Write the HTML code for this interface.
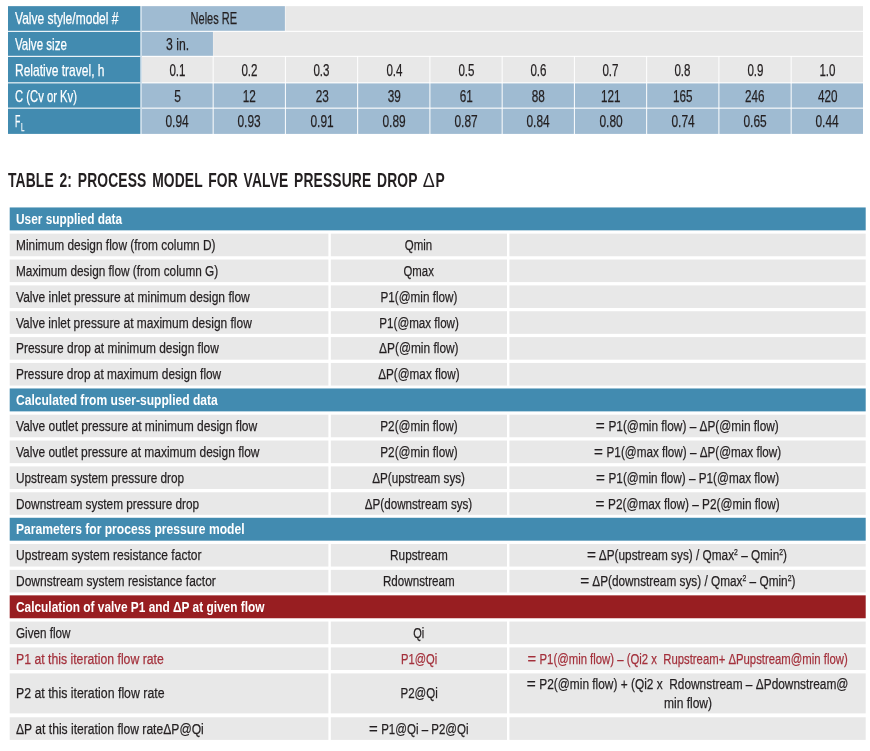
<!DOCTYPE html>
<html><head><meta charset='utf-8'><title>Table 2: Process model for valve pressure drop</title>
<style>
html,body{margin:0;padding:0;background:#fff}
body{width:870px;height:751px;position:relative;overflow:hidden;font-family:"Liberation Sans",sans-serif;font-size:15.5px;color:#231f20}
svg.bg{position:absolute;left:0;top:0}
#pg{position:absolute;left:0;top:0;width:870px;height:751px;filter:blur(0.45px)}
.t{position:absolute;white-space:nowrap;-webkit-text-stroke:0.25px currentColor;line-height:20px;height:20px;margin-top:-10px;transform-origin:0 50%}
.t.c{transform-origin:50% 50%}
.t sub{font-size:70%;vertical-align:baseline;position:relative;top:3.5px;margin-left:1px}
.t sup{font-size:58%;vertical-align:baseline;position:relative;top:-5px}
.eq{display:inline-block;transform:scaleX(1.3);margin:0 1.6px 0 1.2px}
</style></head>
<body>
<div id='pg'>
<svg class='bg' width='870' height='751' viewBox='0 0 870 751'><rect x='139.90' y='6.15' width='2.00' height='127.75' fill='#cddde9'/><rect x='8.00' y='6.15' width='132.20' height='24.65' fill='#428bb0'/><rect x='8.00' y='31.90' width='132.20' height='23.90' fill='#428bb0'/><rect x='8.00' y='56.90' width='132.20' height='25.40' fill='#428bb0'/><rect x='8.00' y='83.40' width='132.20' height='24.20' fill='#428bb0'/><rect x='8.00' y='108.70' width='132.20' height='25.20' fill='#428bb0'/><rect x='141.90' y='6.15' width='143.00' height='24.65' fill='#9fbbd2'/><rect x='285.40' y='6.15' width='577.60' height='24.65' fill='#e8e8e8'/><rect x='141.90' y='31.90' width='71.05' height='23.90' fill='#9fbbd2'/><rect x='213.15' y='31.90' width='649.85' height='23.90' fill='#e8e8e8'/><rect x='141.90' y='56.90' width='70.75' height='25.40' fill='#e8e8e8'/><rect x='213.65' y='56.90' width='71.25' height='25.40' fill='#e8e8e8'/><rect x='285.90' y='56.90' width='71.25' height='25.40' fill='#e8e8e8'/><rect x='358.15' y='56.90' width='71.25' height='25.40' fill='#e8e8e8'/><rect x='430.40' y='56.90' width='71.25' height='25.40' fill='#e8e8e8'/><rect x='502.65' y='56.90' width='71.25' height='25.40' fill='#e8e8e8'/><rect x='574.90' y='56.90' width='71.25' height='25.40' fill='#e8e8e8'/><rect x='647.15' y='56.90' width='71.25' height='25.40' fill='#e8e8e8'/><rect x='719.40' y='56.90' width='71.25' height='25.40' fill='#e8e8e8'/><rect x='791.65' y='56.90' width='71.35' height='25.40' fill='#e8e8e8'/><rect x='141.90' y='83.40' width='70.75' height='24.20' fill='#9fbbd2'/><rect x='213.65' y='83.40' width='71.25' height='24.20' fill='#9fbbd2'/><rect x='285.90' y='83.40' width='71.25' height='24.20' fill='#9fbbd2'/><rect x='358.15' y='83.40' width='71.25' height='24.20' fill='#9fbbd2'/><rect x='430.40' y='83.40' width='71.25' height='24.20' fill='#9fbbd2'/><rect x='502.65' y='83.40' width='71.25' height='24.20' fill='#9fbbd2'/><rect x='574.90' y='83.40' width='71.25' height='24.20' fill='#9fbbd2'/><rect x='647.15' y='83.40' width='71.25' height='24.20' fill='#9fbbd2'/><rect x='719.40' y='83.40' width='71.25' height='24.20' fill='#9fbbd2'/><rect x='791.65' y='83.40' width='71.35' height='24.20' fill='#9fbbd2'/><rect x='141.90' y='108.70' width='70.75' height='25.20' fill='#9fbbd2'/><rect x='213.65' y='108.70' width='71.25' height='25.20' fill='#9fbbd2'/><rect x='285.90' y='108.70' width='71.25' height='25.20' fill='#9fbbd2'/><rect x='358.15' y='108.70' width='71.25' height='25.20' fill='#9fbbd2'/><rect x='430.40' y='108.70' width='71.25' height='25.20' fill='#9fbbd2'/><rect x='502.65' y='108.70' width='71.25' height='25.20' fill='#9fbbd2'/><rect x='574.90' y='108.70' width='71.25' height='25.20' fill='#9fbbd2'/><rect x='647.15' y='108.70' width='71.25' height='25.20' fill='#9fbbd2'/><rect x='719.40' y='108.70' width='71.25' height='25.20' fill='#9fbbd2'/><rect x='791.65' y='108.70' width='71.35' height='25.20' fill='#9fbbd2'/><rect x='9.70' y='207.45' width='856.00' height='22.90' fill='#428bb0'/><rect x='9.70' y='233.66' width='318.70' height='22.60' fill='#e8e8e8'/><rect x='330.80' y='233.66' width='176.20' height='22.60' fill='#e8e8e8'/><rect x='509.40' y='233.66' width='356.30' height='22.60' fill='#e8e8e8'/><rect x='9.70' y='259.52' width='318.70' height='22.60' fill='#e8e8e8'/><rect x='330.80' y='259.52' width='176.20' height='22.60' fill='#e8e8e8'/><rect x='509.40' y='259.52' width='356.30' height='22.60' fill='#e8e8e8'/><rect x='9.70' y='285.38' width='318.70' height='22.60' fill='#e8e8e8'/><rect x='330.80' y='285.38' width='176.20' height='22.60' fill='#e8e8e8'/><rect x='509.40' y='285.38' width='356.30' height='22.60' fill='#e8e8e8'/><rect x='9.70' y='311.24' width='318.70' height='22.60' fill='#e8e8e8'/><rect x='330.80' y='311.24' width='176.20' height='22.60' fill='#e8e8e8'/><rect x='509.40' y='311.24' width='356.30' height='22.60' fill='#e8e8e8'/><rect x='9.70' y='337.10' width='318.70' height='22.60' fill='#e8e8e8'/><rect x='330.80' y='337.10' width='176.20' height='22.60' fill='#e8e8e8'/><rect x='509.40' y='337.10' width='356.30' height='22.60' fill='#e8e8e8'/><rect x='9.70' y='362.96' width='318.70' height='22.60' fill='#e8e8e8'/><rect x='330.80' y='362.96' width='176.20' height='22.60' fill='#e8e8e8'/><rect x='509.40' y='362.96' width='356.30' height='22.60' fill='#e8e8e8'/><rect x='9.70' y='388.47' width='856.00' height='22.90' fill='#428bb0'/><rect x='9.70' y='414.68' width='318.70' height='22.60' fill='#e8e8e8'/><rect x='330.80' y='414.68' width='176.20' height='22.60' fill='#e8e8e8'/><rect x='509.40' y='414.68' width='356.30' height='22.60' fill='#e8e8e8'/><rect x='9.70' y='440.54' width='318.70' height='22.60' fill='#e8e8e8'/><rect x='330.80' y='440.54' width='176.20' height='22.60' fill='#e8e8e8'/><rect x='509.40' y='440.54' width='356.30' height='22.60' fill='#e8e8e8'/><rect x='9.70' y='466.40' width='318.70' height='22.60' fill='#e8e8e8'/><rect x='330.80' y='466.40' width='176.20' height='22.60' fill='#e8e8e8'/><rect x='509.40' y='466.40' width='356.30' height='22.60' fill='#e8e8e8'/><rect x='9.70' y='492.26' width='318.70' height='22.60' fill='#e8e8e8'/><rect x='330.80' y='492.26' width='176.20' height='22.60' fill='#e8e8e8'/><rect x='509.40' y='492.26' width='356.30' height='22.60' fill='#e8e8e8'/><rect x='9.70' y='517.77' width='856.00' height='22.90' fill='#428bb0'/><rect x='9.70' y='543.98' width='318.70' height='22.60' fill='#e8e8e8'/><rect x='330.80' y='543.98' width='176.20' height='22.60' fill='#e8e8e8'/><rect x='509.40' y='543.98' width='356.30' height='22.60' fill='#e8e8e8'/><rect x='9.70' y='569.84' width='318.70' height='22.60' fill='#e8e8e8'/><rect x='330.80' y='569.84' width='176.20' height='22.60' fill='#e8e8e8'/><rect x='509.40' y='569.84' width='356.30' height='22.60' fill='#e8e8e8'/><rect x='9.70' y='595.35' width='856.00' height='22.90' fill='#981e21'/><rect x='9.70' y='621.56' width='318.70' height='22.60' fill='#e8e8e8'/><rect x='330.80' y='621.56' width='176.20' height='22.60' fill='#e8e8e8'/><rect x='509.40' y='621.56' width='356.30' height='22.60' fill='#e8e8e8'/><rect x='9.70' y='647.42' width='318.70' height='22.60' fill='#e8e8e8'/><rect x='330.80' y='647.42' width='176.20' height='22.60' fill='#e8e8e8'/><rect x='509.40' y='647.42' width='356.30' height='22.60' fill='#e8e8e8'/><rect x='9.70' y='673.38' width='318.70' height='40.00' fill='#e8e8e8'/><rect x='330.80' y='673.38' width='176.20' height='40.00' fill='#e8e8e8'/><rect x='509.40' y='673.38' width='356.30' height='40.00' fill='#e8e8e8'/><rect x='9.70' y='717.28' width='318.70' height='22.60' fill='#e8e8e8'/><rect x='330.80' y='717.28' width='176.20' height='22.60' fill='#e8e8e8'/><rect x='509.40' y='717.28' width='356.30' height='22.60' fill='#e8e8e8'/></svg>
<div id='t0' class='t' style='color:#ffffff;font-size:16.5px;top:18.48px;left:14.96px;transform:scaleX(0.7296);'>Valve style/model #</div>
<div id='t1' class='t' style='color:#ffffff;font-size:16.5px;top:43.85px;left:14.98px;transform:scaleX(0.7015);'>Valve size</div>
<div id='t2' class='t' style='color:#ffffff;font-size:16.5px;top:69.60px;left:14.96px;transform:scaleX(0.7283);'>Relative travel, h</div>
<div id='t3' class='t' style='color:#ffffff;font-size:16.5px;top:95.50px;left:14.99px;transform:scaleX(0.6832);'>C (Cv or Kv)</div>
<div id='t4' class='t' style='color:#ffffff;font-size:16.5px;top:121.30px;left:15.08px;transform:scaleX(0.5310);'>F<sub>L</sub></div>
<div id='t5' class='t c' style='color:#231f20;font-size:16.5px;top:18.48px;left:178.55px;transform:scaleX(0.6671);'>Neles RE</div>
<div id='t6' class='t c' style='color:#231f20;font-size:16.5px;top:43.85px;left:162.31px;transform:scaleX(0.7407);'>3 in.</div>
<div id='t7' class='t c' style='color:#231f20;font-size:16.5px;top:69.60px;left:165.83px;transform:scaleX(0.7019);'>0.1</div>
<div id='t8' class='t c' style='color:#231f20;font-size:16.5px;top:69.60px;left:238.06px;transform:scaleX(0.7019);'>0.2</div>
<div id='t9' class='t c' style='color:#231f20;font-size:16.5px;top:69.60px;left:310.29px;transform:scaleX(0.7019);'>0.3</div>
<div id='t10' class='t c' style='color:#231f20;font-size:16.5px;top:69.60px;left:382.52px;transform:scaleX(0.7019);'>0.4</div>
<div id='t11' class='t c' style='color:#231f20;font-size:16.5px;top:69.60px;left:454.75px;transform:scaleX(0.7019);'>0.5</div>
<div id='t12' class='t c' style='color:#231f20;font-size:16.5px;top:69.60px;left:526.98px;transform:scaleX(0.7019);'>0.6</div>
<div id='t13' class='t c' style='color:#231f20;font-size:16.5px;top:69.60px;left:599.21px;transform:scaleX(0.7019);'>0.7</div>
<div id='t14' class='t c' style='color:#231f20;font-size:16.5px;top:69.60px;left:671.44px;transform:scaleX(0.7019);'>0.8</div>
<div id='t15' class='t c' style='color:#231f20;font-size:16.5px;top:69.60px;left:743.67px;transform:scaleX(0.7019);'>0.9</div>
<div id='t16' class='t c' style='color:#231f20;font-size:16.5px;top:69.60px;left:815.90px;transform:scaleX(0.7019);'>1.0</div>
<div id='t17' class='t c' style='color:#231f20;font-size:16.5px;top:95.50px;left:172.71px;transform:scaleX(0.7293);'>5</div>
<div id='t18' class='t c' style='color:#231f20;font-size:16.5px;top:95.50px;left:240.35px;transform:scaleX(0.7135);'>12</div>
<div id='t19' class='t c' style='color:#231f20;font-size:16.5px;top:95.50px;left:312.58px;transform:scaleX(0.7135);'>23</div>
<div id='t20' class='t c' style='color:#231f20;font-size:16.5px;top:95.50px;left:384.81px;transform:scaleX(0.7135);'>39</div>
<div id='t21' class='t c' style='color:#231f20;font-size:16.5px;top:95.50px;left:457.04px;transform:scaleX(0.7135);'>61</div>
<div id='t22' class='t c' style='color:#231f20;font-size:16.5px;top:95.50px;left:529.27px;transform:scaleX(0.7135);'>88</div>
<div id='t23' class='t c' style='color:#231f20;font-size:16.5px;top:95.50px;left:596.91px;transform:scaleX(0.7083);'>121</div>
<div id='t24' class='t c' style='color:#231f20;font-size:16.5px;top:95.50px;left:669.14px;transform:scaleX(0.7083);'>165</div>
<div id='t25' class='t c' style='color:#231f20;font-size:16.5px;top:95.50px;left:741.37px;transform:scaleX(0.7083);'>246</div>
<div id='t26' class='t c' style='color:#231f20;font-size:16.5px;top:95.50px;left:813.60px;transform:scaleX(0.7083);'>420</div>
<div id='t27' class='t c' style='color:#231f20;font-size:16.5px;top:121.30px;left:161.24px;transform:scaleX(0.7222);'>0.94</div>
<div id='t28' class='t c' style='color:#231f20;font-size:16.5px;top:121.30px;left:233.47px;transform:scaleX(0.7222);'>0.93</div>
<div id='t29' class='t c' style='color:#231f20;font-size:16.5px;top:121.30px;left:305.70px;transform:scaleX(0.7222);'>0.91</div>
<div id='t30' class='t c' style='color:#231f20;font-size:16.5px;top:121.30px;left:377.93px;transform:scaleX(0.7222);'>0.89</div>
<div id='t31' class='t c' style='color:#231f20;font-size:16.5px;top:121.30px;left:450.16px;transform:scaleX(0.7222);'>0.87</div>
<div id='t32' class='t c' style='color:#231f20;font-size:16.5px;top:121.30px;left:522.39px;transform:scaleX(0.7222);'>0.84</div>
<div id='t33' class='t c' style='color:#231f20;font-size:16.5px;top:121.30px;left:594.62px;transform:scaleX(0.7222);'>0.80</div>
<div id='t34' class='t c' style='color:#231f20;font-size:16.5px;top:121.30px;left:666.85px;transform:scaleX(0.7222);'>0.74</div>
<div id='t35' class='t c' style='color:#231f20;font-size:16.5px;top:121.30px;left:739.08px;transform:scaleX(0.7222);'>0.65</div>
<div id='t36' class='t c' style='color:#231f20;font-size:16.5px;top:121.30px;left:811.31px;transform:scaleX(0.7222);'>0.44</div>
<div id='t37' class='t' style='color:#231f20;font-size:20.8px;line-height:26px;height:26px;margin-top:-13px;letter-spacing:0.2px;word-spacing:2.6px;font-weight:bold;-webkit-text-stroke:0;top:179.90px;left:7.50px;transform:scaleX(0.6658);'>TABLE 2: PROCESS MODEL FOR VALVE PRESSURE DROP <span style='font-weight:normal;display:inline-block;transform:scaleX(1.3);margin:0 2.5px 0 2px'>Δ</span>P</div>
<div id='t38' class='t' style='color:#ffffff;font-weight:bold;-webkit-text-stroke:0;top:219.00px;left:15.54px;transform:scaleX(0.7650);'>User supplied data</div>
<div id='t39' class='t' style='color:#231f20;top:244.96px;left:15.54px;transform:scaleX(0.7669);'>Minimum design flow (from column D)</div>
<div id='t40' class='t c' style='color:#231f20;top:244.96px;left:400.38px;transform:scaleX(0.7396);'>Qmin</div>
<div id='t41' class='t' style='color:#231f20;top:270.82px;left:15.54px;transform:scaleX(0.7622);'>Maximum design flow (from column G)</div>
<div id='t42' class='t c' style='color:#231f20;top:270.82px;left:398.23px;transform:scaleX(0.7329);'>Qmax</div>
<div id='t43' class='t' style='color:#231f20;top:296.68px;left:15.53px;transform:scaleX(0.7761);'>Valve inlet pressure at minimum design flow</div>
<div id='t44' class='t c' style='color:#231f20;top:296.68px;left:367.96px;transform:scaleX(0.7558);'>P1(@min flow)</div>
<div id='t45' class='t' style='color:#231f20;top:322.54px;left:15.54px;transform:scaleX(0.7717);'>Valve inlet pressure at maximum design flow</div>
<div id='t46' class='t c' style='color:#231f20;top:322.54px;left:365.81px;transform:scaleX(0.7488);'>P1(@max flow)</div>
<div id='t47' class='t' style='color:#231f20;top:348.40px;left:15.54px;transform:scaleX(0.7693);'>Pressure drop at minimum design flow</div>
<div id='t48' class='t c' style='color:#231f20;top:348.40px;left:367.10px;transform:scaleX(0.7673);'>ΔP(@min flow)</div>
<div id='t49' class='t' style='color:#231f20;top:374.26px;left:15.54px;transform:scaleX(0.7659);'>Pressure drop at maximum design flow</div>
<div id='t50' class='t c' style='color:#231f20;top:374.26px;left:364.95px;transform:scaleX(0.7553);'>ΔP(@max flow)</div>
<div id='t51' class='t' style='color:#ffffff;font-weight:bold;-webkit-text-stroke:0;top:400.02px;left:15.53px;transform:scaleX(0.7784);'>Calculated from user-supplied data</div>
<div id='t52' class='t' style='color:#231f20;top:425.98px;left:15.53px;transform:scaleX(0.7763);'>Valve outlet pressure at minimum design flow</div>
<div id='t53' class='t c' style='color:#231f20;top:425.98px;left:367.96px;transform:scaleX(0.7598);'>P2(@min flow)</div>
<div id='t54' class='t c' style='color:#231f20;top:425.98px;left:568.13px;transform:scaleX(0.7654);'><span class='eq'>=</span> P1(@min flow) – ΔP(@min flow)</div>
<div id='t55' class='t' style='color:#231f20;top:451.84px;left:15.54px;transform:scaleX(0.7729);'>Valve outlet pressure at maximum design flow</div>
<div id='t56' class='t c' style='color:#231f20;top:451.84px;left:367.96px;transform:scaleX(0.7598);'>P2(@min flow)</div>
<div id='t57' class='t c' style='color:#231f20;top:451.84px;left:563.82px;transform:scaleX(0.7544);'><span class='eq'>=</span> P1(@max flow) – ΔP(@max flow)</div>
<div id='t58' class='t' style='color:#231f20;top:477.70px;left:15.54px;transform:scaleX(0.7627);'>Upstream system pressure drop</div>
<div id='t59' class='t c' style='color:#231f20;top:477.70px;left:357.31px;transform:scaleX(0.7525);'>ΔP(upstream sys)</div>
<div id='t60' class='t c' style='color:#231f20;top:477.70px;left:566.84px;transform:scaleX(0.7572);'><span class='eq'>=</span> P1(@min flow) – P1(@max flow)</div>
<div id='t61' class='t' style='color:#231f20;top:503.56px;left:15.54px;transform:scaleX(0.7622);'>Downstream system pressure drop</div>
<div id='t62' class='t c' style='color:#231f20;top:503.56px;left:347.40px;transform:scaleX(0.7517);'>ΔP(downstream sys)</div>
<div id='t63' class='t c' style='color:#231f20;top:503.56px;left:566.84px;transform:scaleX(0.7622);'><span class='eq'>=</span> P2(@max flow) – P2(@min flow)</div>
<div id='t64' class='t' style='color:#ffffff;font-weight:bold;-webkit-text-stroke:0;top:529.32px;left:15.53px;transform:scaleX(0.7801);'>Parameters for process pressure model</div>
<div id='t65' class='t' style='color:#231f20;top:555.28px;left:15.53px;transform:scaleX(0.7774);'>Upstream system resistance factor</div>
<div id='t66' class='t c' style='color:#231f20;top:555.28px;left:380.99px;transform:scaleX(0.7611);'>Rupstream</div>
<div id='t67' class='t c' style='color:#231f20;top:555.28px;left:556.46px;transform:scaleX(0.7621);'><span class='eq'>=</span> ΔP(upstream sys) / Qmax<sup>2</sup> – Qmin<sup>2</sup>)</div>
<div id='t68' class='t' style='color:#231f20;top:581.14px;left:15.54px;transform:scaleX(0.7732);'>Downstream system resistance factor</div>
<div id='t69' class='t c' style='color:#231f20;top:581.14px;left:371.09px;transform:scaleX(0.7498);'>Rdownstream</div>
<div id='t70' class='t c' style='color:#231f20;top:581.14px;left:546.55px;transform:scaleX(0.7617);'><span class='eq'>=</span> ΔP(downstream sys) / Qmax<sup>2</sup> – Qmin<sup>2</sup>)</div>
<div id='t71' class='t' style='color:#ffffff;font-weight:bold;-webkit-text-stroke:0;top:606.90px;left:15.54px;transform:scaleX(0.7661);'>Calculation of valve P1 and ΔP at given flow</div>
<div id='t72' class='t' style='color:#231f20;top:632.86px;left:15.55px;transform:scaleX(0.7530);'>Given flow</div>
<div id='t73' class='t c' style='color:#231f20;top:632.86px;left:411.15px;transform:scaleX(0.7097);'>Qi</div>
<div id='t74' class='t' style='color:#a3303b;top:658.72px;left:15.53px;transform:scaleX(0.7905);'>P1 at this iteration flow rate</div>
<div id='t75' class='t c' style='color:#a3303b;top:658.72px;left:393.80px;transform:scaleX(0.7211);'>P1@Qi</div>
<div id='t76' class='t c' style='color:#a3303b;top:658.72px;left:468.85px;transform:scaleX(0.7314);'><span class='eq'>=</span> P1(@min flow) – (Qi2 x&nbsp; Rupstream+ ΔPupstream@min flow)</div>
<div id='t77' class='t' style='color:#231f20;top:693.38px;left:15.52px;transform:scaleX(0.7943);'>P2 at this iteration flow rate</div>
<div id='t78' class='t c' style='color:#231f20;top:693.38px;left:393.80px;transform:scaleX(0.7410);'>P2@Qi</div>
<div id='t79' class='t c' style='color:#231f20;top:683.88px;left:477.88px;transform:scaleX(0.7667);'><span class='eq'>=</span> P2(@min flow) + (Qi2 x&nbsp; Rdownstream – ΔPdownstream@</div>
<div id='t80' class='t c' style='color:#231f20;top:702.98px;left:656.54px;transform:scaleX(0.7756);'>min flow)</div>
<div id='t81' class='t' style='color:#231f20;top:728.58px;left:15.53px;transform:scaleX(0.7814);'>ΔP at this iteration flow rateΔP@Qi</div>
<div id='t82' class='t c' style='color:#231f20;top:728.58px;left:352.01px;transform:scaleX(0.7430);'><span class='eq'>=</span> P1@Qi – P2@Qi</div>
</div>
</body></html>
